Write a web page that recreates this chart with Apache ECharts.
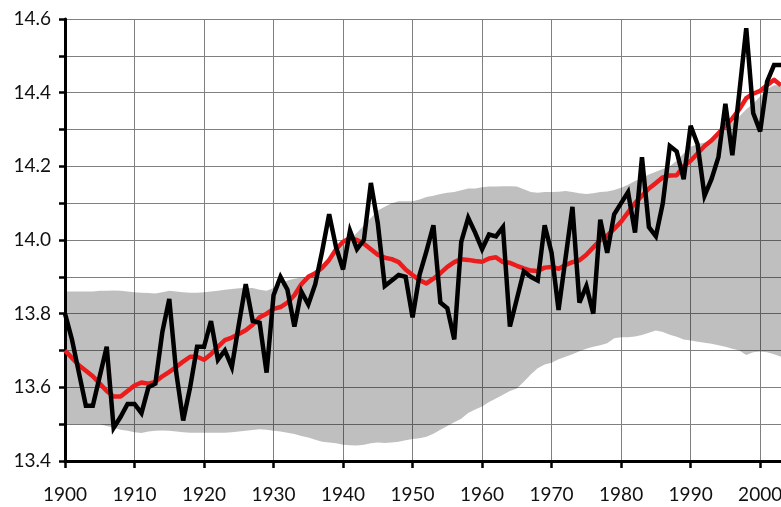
<!DOCTYPE html>
<html>
<head>
<meta charset="utf-8">
<title>Global temperature 1900-2003</title>
<script src="https://cdn.jsdelivr.net/npm/echarts@6/dist/echarts.min.js"></script>
<style>
  html, body { margin: 0; padding: 0; background: #fff; }
  #chart { width: 781px; height: 507px; }
</style>
</head>
<body>
<div id="chart"></div>
<script>
  // years on the x axis
  var firstYear = 1900;
  var lastYear = 2003;

  // annual values (black)
  var annual = [
    13.80, 13.73, 13.64, 13.55, 13.55, 13.63, 13.71, 13.49, 13.52, 13.555,
    13.555, 13.53, 13.60, 13.61, 13.75, 13.84, 13.64, 13.51, 13.60, 13.71,
    13.71, 13.78, 13.675, 13.70, 13.655, 13.77, 13.88, 13.78, 13.775, 13.64,
    13.85, 13.90, 13.865, 13.765, 13.86, 13.825, 13.88, 13.97, 14.07, 13.98,
    13.92, 14.025, 13.975, 14.00, 14.155, 14.045, 13.875, 13.89, 13.905, 13.90,
    13.79, 13.905, 13.97, 14.04, 13.83, 13.815, 13.73, 13.995, 14.06, 14.02,
    13.975, 14.015, 14.01, 14.035, 13.765, 13.84, 13.915, 13.90, 13.89, 14.04,
    13.965, 13.81, 13.95, 14.09, 13.83, 13.875, 13.80, 14.055, 13.965, 14.07,
    14.10, 14.13, 14.02, 14.225, 14.035, 14.01, 14.10, 14.255, 14.24, 14.165,
    14.31, 14.26, 14.12, 14.165, 14.225, 14.37, 14.23, 14.40, 14.575, 14.345,
    14.295, 14.43, 14.475, 14.475
  ];

  // smoothed values (red)
  var smoothed = [
    13.70, 13.68, 13.66, 13.645, 13.63, 13.61, 13.59, 13.575, 13.575, 13.59,
    13.605, 13.613, 13.61, 13.615, 13.63, 13.642, 13.655, 13.67, 13.683, 13.683,
    13.675, 13.69, 13.71, 13.728, 13.735, 13.745, 13.755, 13.77, 13.79, 13.80,
    13.813, 13.818, 13.83, 13.85, 13.88, 13.90, 13.91, 13.925, 13.946, 13.975,
    13.995, 14.005, 14.00, 13.99, 13.975, 13.96, 13.952, 13.948, 13.94, 13.92,
    13.905, 13.891, 13.882, 13.895, 13.91, 13.927, 13.94, 13.948, 13.946, 13.943,
    13.941, 13.95, 13.953, 13.94, 13.938, 13.93, 13.923, 13.917, 13.916, 13.925,
    13.927, 13.922, 13.932, 13.94, 13.945, 13.96, 13.98, 14.00, 14.012, 14.03,
    14.05, 14.075, 14.10, 14.12, 14.14, 14.155, 14.17, 14.175, 14.176, 14.20,
    14.215, 14.235, 14.255, 14.27, 14.29, 14.31, 14.33, 14.355, 14.385, 14.397,
    14.405, 14.42, 14.435, 14.42
  ];

  // grey band, upper edge
  var bandUpper = [
    13.86, 13.86, 13.86, 13.86, 13.86, 13.862, 13.862, 13.863, 13.862, 13.86,
    13.858, 13.857, 13.856, 13.855, 13.858, 13.862, 13.86, 13.858, 13.857, 13.857,
    13.858, 13.86, 13.862, 13.865, 13.867, 13.869, 13.87, 13.87, 13.865, 13.862,
    13.87, 13.88, 13.89, 13.895, 13.898, 13.90, 13.915, 13.93, 13.95, 13.965,
    13.985, 14.00, 14.02, 14.04, 14.06, 14.08, 14.09, 14.10, 14.105, 14.105,
    14.105, 14.11, 14.117, 14.12, 14.125, 14.128, 14.13, 14.135, 14.14, 14.14,
    14.143, 14.145, 14.145, 14.146, 14.146, 14.145, 14.138, 14.13, 14.128, 14.13,
    14.13, 14.131, 14.133, 14.13, 14.127, 14.125, 14.127, 14.13, 14.132, 14.136,
    14.142, 14.15, 14.16, 14.168, 14.178, 14.185, 14.193, 14.20, 14.215, 14.235,
    14.253, 14.26, 14.265, 14.27, 14.29, 14.305, 14.32, 14.335, 14.355, 14.37,
    14.39, 14.41, 14.42, 14.42
  ];

  // grey band, lower edge
  var bandLower = [
    13.50, 13.50, 13.50, 13.50, 13.50, 13.50, 13.495, 13.49, 13.485, 13.482,
    13.478, 13.476, 13.48, 13.482, 13.483, 13.482, 13.48, 13.478, 13.477, 13.477,
    13.477, 13.477, 13.477, 13.477, 13.478, 13.48, 13.482, 13.484, 13.486, 13.485,
    13.482, 13.48, 13.477, 13.473, 13.468, 13.464, 13.458, 13.452, 13.45, 13.448,
    13.444, 13.443, 13.442, 13.444, 13.448, 13.45, 13.449, 13.45, 13.452, 13.456,
    13.46, 13.462, 13.466, 13.474, 13.485, 13.495, 13.505, 13.515, 13.53, 13.54,
    13.548, 13.56, 13.57, 13.58, 13.59, 13.597, 13.615, 13.635, 13.652, 13.662,
    13.667, 13.676, 13.683, 13.69, 13.698, 13.705, 13.71, 13.714, 13.72, 13.733,
    13.736, 13.736, 13.738, 13.742, 13.748, 13.754, 13.75, 13.743, 13.737, 13.73,
    13.727, 13.724, 13.721, 13.718, 13.714, 13.71, 13.705, 13.70, 13.688, 13.695,
    13.697, 13.695, 13.69, 13.683
  ];

  var years = [];
  for (var y = firstYear; y <= lastYear; y++) years.push(String(y));

  // band drawn as lower edge + stacked width
  var bandWidth = bandUpper.map(function (v, i) { return +(v - bandLower[i]).toFixed(4); });

  var chart = echarts.init(document.getElementById('chart'));
  var labelFont = { fontFamily: 'Lato, "Open Sans", sans-serif', fontSize: 19, color: '#111' };

  var option = {
    animation: false,
    backgroundColor: '#fff',
    grid: {
      left: 65, right: 0, top: 19, bottom: 46,
      containLabel: false,
      outerBoundsMode: 'none'
    },
    xAxis: {
      type: 'category',
      data: years,
      boundaryGap: false,
      axisLine: { show: true, onZero: false, lineStyle: { color: '#000', width: 3 } },
      axisTick: { show: true, inside: false, interval: 9, length: 7, lineStyle: { color: '#000', width: 2.5 } },
      axisLabel: Object.assign({ margin: 24, interval: 9 }, labelFont),
      splitLine: { show: true, interval: 9, lineStyle: { color: '#808080', width: 1 } }
    },
    yAxis: {
      type: 'value',
      min: 13.4,
      max: 14.6,
      interval: 0.1,
      axisLine: { show: true, onZero: false, lineStyle: { color: '#000', width: 3 } },
      axisTick: { show: true, inside: false, length: 6, lineStyle: { color: '#000', width: 2.5 } },
      axisLabel: Object.assign({
        margin: 14,
        formatter: function (v) {
          return Math.round(v * 10) % 2 === 0 ? v.toFixed(1) : '';
        }
      }, labelFont),
      splitLine: { show: true, lineStyle: { color: '#808080', width: 1 } }
    },
    series: [
      {
        name: 'lower',
        type: 'line',
        stack: 'band',
        data: bandLower,
        symbol: 'none',
        lineStyle: { opacity: 0 },
        silent: true
      },
      {
        name: 'band',
        type: 'line',
        stack: 'band',
        data: bandWidth,
        symbol: 'none',
        lineStyle: { opacity: 0 },
        areaStyle: { color: 'rgba(0,0,0,0.25)', opacity: 1 },
        silent: true
      },
      {
        name: 'smoothed',
        type: 'line',
        data: smoothed,
        symbol: 'none',
        lineStyle: { color: '#ec1c1c', width: 4.5, join: 'round' }
      },
      {
        name: 'annual',
        type: 'line',
        data: annual,
        symbol: 'none',
        lineStyle: { color: '#000', width: 4.5, join: 'miter', miterLimit: 4 }
      }
    ]
  };

  chart.setOption(option);
  window.addEventListener('resize', function () {
    chart.resize();
  });
</script>
</body>
</html>
